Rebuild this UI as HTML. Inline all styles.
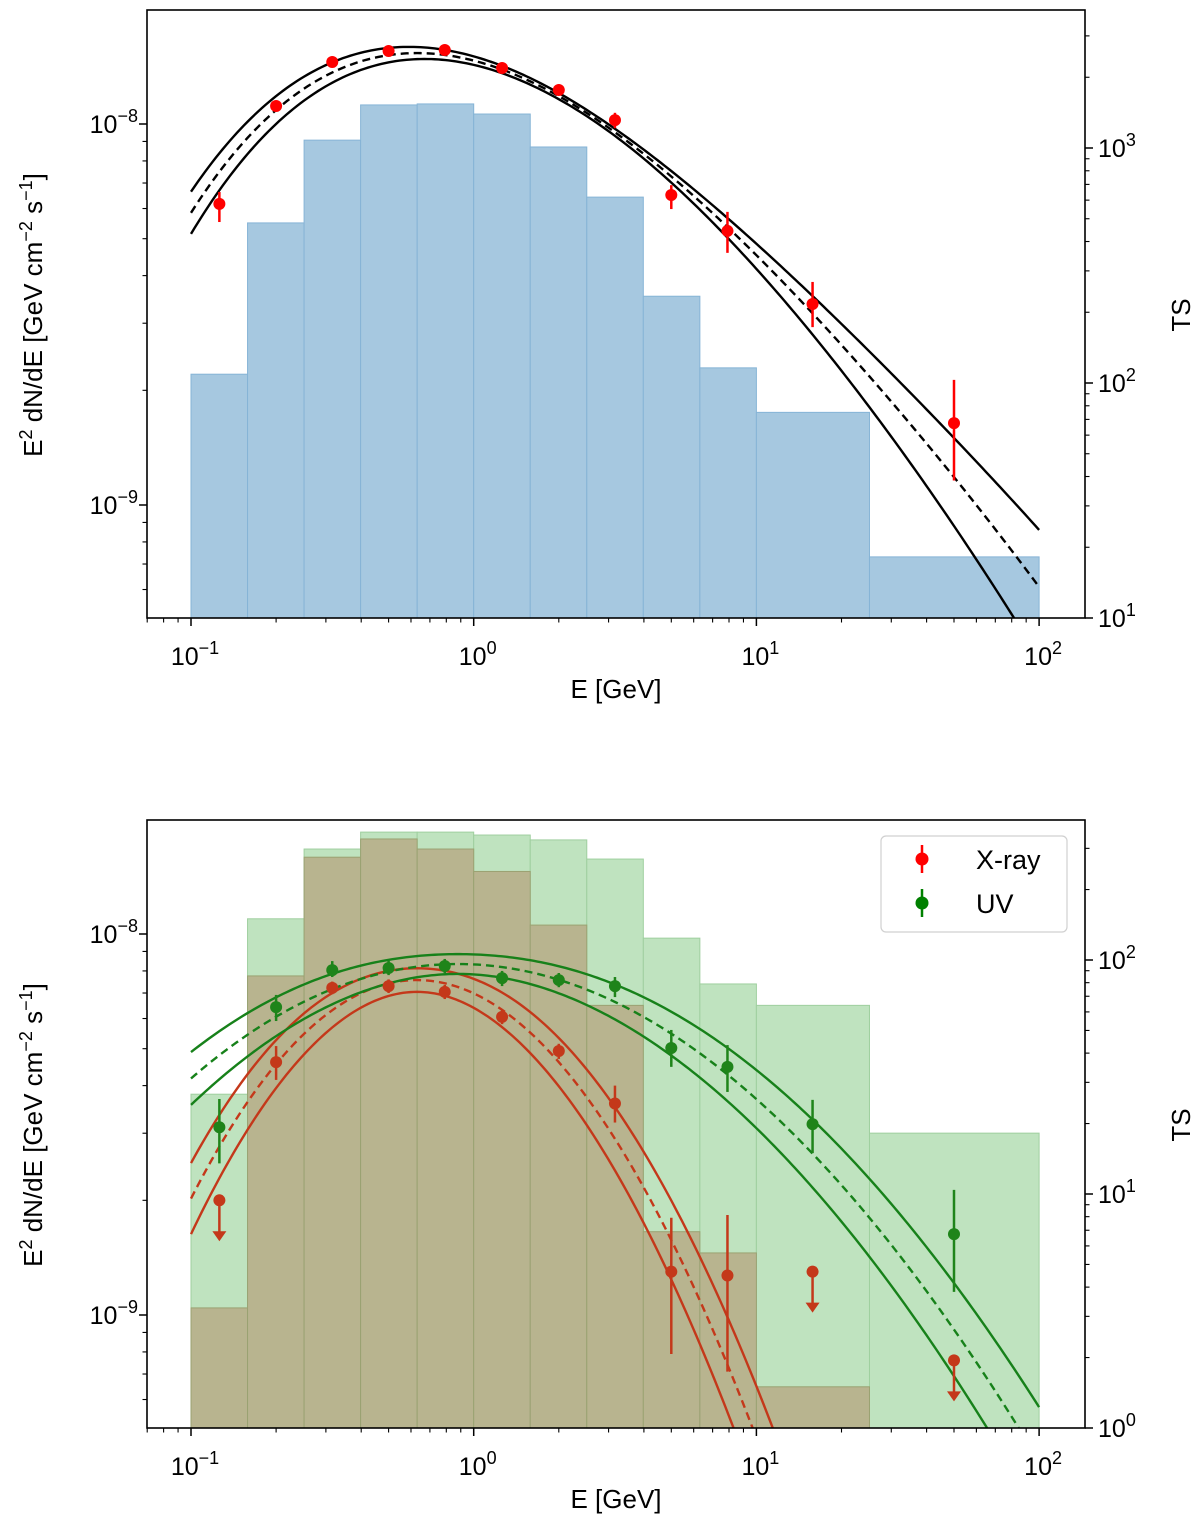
<!DOCTYPE html>
<html><head><meta charset="utf-8"><title>SED with TS histograms</title>
<style>
html,body{margin:0;padding:0;background:#fff;overflow:hidden;width:1200px;height:1523px;}
svg{display:block;font-family:"Liberation Sans","DejaVu Sans",sans-serif;}
</style></head>
<body>
<svg id="chart" width="1200" height="1523" viewBox="0 0 1200 1523" xmlns="http://www.w3.org/2000/svg">
<defs>
<clipPath id="clipTop"><rect x="147" y="10" width="938" height="608"/></clipPath>
<clipPath id="clipBot"><rect x="147" y="820" width="938" height="608"/></clipPath>
</defs>
<g id="topPanel"></g>
<g id="botPanel"></g>
</svg>
<script>
// ---------- data ----------
const binEdges = [0.1,0.1585,0.2512,0.3981,0.631,1,1.585,2.512,3.981,6.31,10,25.12,100];
const tsTop   = [109,480,1080,1525,1540,1395,1010,618,234,116,75,18.2];
const tsUV    = [26.7,150,298,352,352,342,326,270,124,79,64,18.2];
const tsXray  = [3.26,85.5,275,329,298,239,141,64,6.9,5.6,1.5,0.5];
const ptE     = [0.126,0.2,0.316,0.5,0.79,1.26,2,3.16,5,7.9,15.8,50];
const topFlux = [6.17e-9,1.115e-8,1.455e-8,1.555e-8,1.564e-8,1.403e-8,1.228e-8,1.024e-8,6.51e-9,5.24e-9,3.37e-9,1.64e-9];
const topLo   = [5.53e-9,1.08e-8,1.41e-8,1.51e-8,1.52e-8,1.36e-8,1.19e-8,0.975e-8,5.98e-9,4.59e-9,2.93e-9,1.16e-9];
const topHi   = [6.63e-9,1.15e-8,1.50e-8,1.60e-8,1.61e-8,1.45e-8,1.27e-8,1.07e-8,6.91e-9,5.88e-9,3.85e-9,2.13e-9];
const uvFlux  = [3.11e-9,6.43e-9,8.04e-9,8.14e-9,8.24e-9,7.66e-9,7.57e-9,7.30e-9,5.02e-9,4.48e-9,3.17e-9,1.63e-9];
const uvLo    = [2.5e-9,5.91e-9,7.71e-9,7.8e-9,7.9e-9,7.3e-9,7.25e-9,6.83e-9,4.48e-9,3.85e-9,2.66e-9,1.15e-9];
const uvHi    = [3.69e-9,6.92e-9,8.49e-9,8.5e-9,8.6e-9,8.0e-9,7.9e-9,7.71e-9,5.6e-9,5.11e-9,3.67e-9,2.13e-9];
const xrFlux  = [2.0e-9,4.61e-9,7.22e-9,7.30e-9,7.05e-9,6.06e-9,4.93e-9,3.59e-9,1.30e-9,1.27e-9,1.30e-9,7.6e-10];
const xrLo    = [null,4.14e-9,6.95e-9,7.0e-9,6.75e-9,5.8e-9,4.7e-9,3.2e-9,7.9e-10,7.1e-10,null,null];
const xrHi    = [null,5.08e-9,7.5e-9,7.6e-9,7.35e-9,6.3e-9,5.15e-9,4.0e-9,1.80e-9,1.83e-9,null,null];
const xrUL    = [true,false,false,false,false,false,false,false,false,false,true,true];
// model params: [peakE, peakFlux, c2, c3, c4]
// band params: [s0, pivotOffset(dec), kLowSide, kHighUpper, kHighLower, power]
const topModel = [0.63,1.535e-8,0.52,0.1528,-0.0218];
const topBand  = [0.008,0.55,0.026,0.052,0.066,2];
const uvModel  = [0.88,8.34e-9,0.328,0.0093,0];
const uvBand   = [0.026,0,0.068,0.068,0.068,1];
const xrModel  = [0.63,7.57e-9,0.872,0.032,0];
const xrBand   = [0.031,0,0.11,0.11,0.11,1];
const xTickLabels = ["-1","0","1","2"];

// ---------- helpers ----------
const NS="http://www.w3.org/2000/svg";
function mk(tag, parent, attrs){const e=document.createElementNS(NS,tag);for(const k in attrs)e.setAttribute(k,attrs[k]);parent.appendChild(e);return e;}
const L=Math.log10;
function X(E){return 191+282.7*(L(E)+1);}
function mkAxes(y0){return {top:y0,bot:y0+608,Y:F=>(y0+114)-381*(L(F)+8)};}
const topAx=mkAxes(10), botAx=mkAxes(820);
topAx.TS=t=>618-235*(L(t)-1);
botAx.TS=t=>1428-234*L(t);

function model(p,E){const x=L(E/p[0]);return L(p[1])-p[2]*x*x+p[3]*x*x*x+p[4]*x*x*x*x;}
function band(b,E,p,up){
  const u=L(E/p[0])-b[1];
  const k=u<0?b[2]:(up?b[3]:b[4]);
  if(b[5]===2)return b[0]+k*u*u;
  return Math.sqrt(b[0]*b[0]+Math.pow(k*u,2));
}

function drawBars(g,ax,ts,fill,stroke,name,clip){
  const gg=mk('g',g,{'clip-path':clip});
  
  
  for(let i=0;i<ts.length;i++){
    const x0=X(binEdges[i]),x1=X(binEdges[i+1]),yt=ax.TS(ts[i]);
    const r=mk('rect',gg,{x:x0,y:yt,width:x1-x0,height:ax.bot-yt+2,fill:fill,stroke:stroke,'stroke-width':1});
    
    
  }
}
function drawCurves(g,ax,p,b,color,name,clip){
  const gg=mk('g',g,{'clip-path':clip});
  
  
  const kinds=[['upper',1],['best',0],['lower',-1]];
  kinds.forEach(k=>{
    let d='';
    for(let i=0;i<=240;i++){
      const E=Math.pow(10,-1+3*i/240);
      let v=model(p,E);
      if(k[1]===1)v+=band(b,E,p,true);
      if(k[1]===-1)v-=band(b,E,p,false);
      const y=ax.Y(Math.pow(10,v));
      d+=(i?'L':'M')+X(E).toFixed(2)+','+y.toFixed(2);
    }
    const path=mk('path',gg,{d:d,fill:'none',stroke:color,'stroke-width':2.4});
    if(k[1]===0)path.setAttribute('stroke-dasharray','8,5');
    
    
  });
}
function drawPoints(g,ax,E,F,lo,hi,ul,color,name){
  const gg=mk('g',g,{});
  
  
  for(let i=0;i<E.length;i++){
    const x=X(E[i]),y=ax.Y(F[i]);
    if(ul&&ul[i]){
      const l=mk('line',gg,{x1:x,y1:y,x2:x,y2:y+32,stroke:color,'stroke-width':2.5});
      
      
      mk('path',gg,{d:`M${x-7},${y+31}L${x+7},${y+31}L${x},${y+41}Z`,fill:color});
    }else if(lo[i]!==null){
      const l=mk('line',gg,{x1:x,y1:ax.Y(hi[i]),x2:x,y2:ax.Y(lo[i]),stroke:color,'stroke-width':2.5});
      
      
    }
    const c=mk('circle',gg,{cx:x,cy:y,r:6,fill:color});
    
    
  }
}
function sup(parent,x,y,exp,anchor,name){
  const t=mk('text',parent,{x:x,y:y,'font-size':25,'text-anchor':anchor||'middle',fill:'#000'});
  
  
  const a=mk('tspan',t,{});a.textContent='10';
  const b=mk('tspan',t,{dy:-11,'font-size':18});b.textContent=exp.replace('-','\u2212');
  return t;
}
function drawFrame(g,ax,tsMinExp,tsMaxExp,tsLabels,yName){
  const top=ax.top,bot=ax.bot;
  const fr=mk('rect',g,{x:147,y:top,width:938,height:608,fill:'none',stroke:'#000','stroke-width':1.6});
  
  
  const xg=mk('g',g,{});
  
  
  for(let d=-2;d<=2;d++)for(let m=1;m<10;m++){
    const E=m*Math.pow(10,d);const x=X(E);
    if(x<147||x>1085)continue;
    mk('line',xg,{x1:x,y1:bot,x2:x,y2:bot+(m===1?8:4.5),stroke:'#000','stroke-width':m===1?1.5:1.1});
  }
  for(let i=0;i<4;i++){sup(xg,X(Math.pow(10,i-1))+4,bot+47,xTickLabels[i],'middle','x-tick-label');}
  const xl=mk('text',xg,{x:616,y:bot+80,'font-size':26,'text-anchor':'middle'});
  xl.textContent='E [GeV]';
  
  
  const yg=mk('g',g,{});
  
  
  for(let d=-10;d<=-8;d++)for(let m=1;m<10;m++){
    const y=ax.Y(m*Math.pow(10,d));
    if(y<top-0.5||y>bot+0.5)continue;
    mk('line',yg,{x1:147,y1:y,x2:147-(m===1?8:4.5),y2:y,stroke:'#000','stroke-width':m===1?1.5:1.1});
  }
  sup(yg,138,ax.Y(1e-8)+9,'-8','end','y-tick-label');
  sup(yg,138,ax.Y(1e-9)+9,'-9','end','y-tick-label');
  const yl=mk('text',yg,{x:0,y:0,'font-size':26,'text-anchor':'middle',transform:`translate(42,${top+305}) rotate(-90)`});
  
  
  const s1=mk('tspan',yl,{});s1.textContent='E';
  const s2=mk('tspan',yl,{dy:-10,'font-size':18});s2.textContent='2';
  const s3=mk('tspan',yl,{dy:10});s3.textContent=' dN/dE [GeV cm';
  const s4=mk('tspan',yl,{dy:-10,'font-size':18});s4.textContent='\u22122';
  const s5=mk('tspan',yl,{dy:10});s5.textContent=' s';
  const s6=mk('tspan',yl,{dy:-10,'font-size':18});s6.textContent='\u22121';
  const s7=mk('tspan',yl,{dy:10});s7.textContent=']';
  const rg=mk('g',g,{});
  
  
  for(let d=tsMinExp;d<=tsMaxExp;d++)for(let m=1;m<10;m++){
    const y=ax.TS(m*Math.pow(10,d));
    if(y<top-0.5||y>bot+0.5)continue;
    mk('line',rg,{x1:1085,y1:y,x2:1085+(m===1?8:4.5),y2:y,stroke:'#000','stroke-width':m===1?1.5:1.1});
  }
  tsLabels.forEach(e=>{sup(rg,1098,ax.TS(Math.pow(10,+e))+9,e,'start','ts-tick-label');});
  const tl=mk('text',rg,{x:0,y:0,'font-size':26,'text-anchor':'middle',transform:`translate(1190,${top+305}) rotate(-90)`});
  tl.textContent='TS';
  
  
}

// ---------- top panel ----------
const gT=document.getElementById('topPanel');
drawBars(gT,topAx,tsTop,'#a6c8e0','#86b4d6','ts',"url(#clipTop)");
drawCurves(gT,topAx,topModel,topBand,'#000','fit','url(#clipTop)');
drawPoints(gT,topAx,ptE,topFlux,topLo,topHi,null,'#ff0000','flux');
drawFrame(gT,topAx,0,3,['1','2','3'],'y-axis-title');

// ---------- bottom panel ----------
const gB=document.getElementById('botPanel');
drawBars(gB,botAx,tsUV,'#bfe3bf','#9fcf9f','uv-ts',"url(#clipBot)");
drawBars(gB,botAx,tsXray,'#b8b48f','#9aa272','xray-ts',"url(#clipBot)");
drawCurves(gB,botAx,xrModel,xrBand,'#c4381a','xray','url(#clipBot)');
drawCurves(gB,botAx,uvModel,uvBand,'#17811a','uv','url(#clipBot)');
drawPoints(gB,botAx,ptE,xrFlux,xrLo,xrHi,xrUL,'#c4381a','xray');
drawPoints(gB,botAx,ptE,uvFlux,uvLo,uvHi,null,'#1f841a','uv');
drawFrame(gB,botAx,-1,3,['0','1','2'],'y-axis-title-bottom');

// legend
const lg=mk('g',gB,{});


mk('rect',lg,{x:881,y:836,width:186,height:96,rx:5,fill:'#fff','fill-opacity':0.85,stroke:'#d0d0d0','stroke-width':1.2});
[['X-ray','#ff0000',859],['UV','#008000',903]].forEach(en=>{
  const e=mk('g',lg,{});
  
  
  mk('line',e,{x1:922,y1:en[2]-14,x2:922,y2:en[2]+14,stroke:en[1],'stroke-width':2.5});
  mk('circle',e,{cx:922,cy:en[2],r:6.5,fill:en[1]});
  const t=mk('text',e,{x:976,y:en[2]+10,'font-size':27});t.textContent=en[0];
});
</script>
</body></html>
